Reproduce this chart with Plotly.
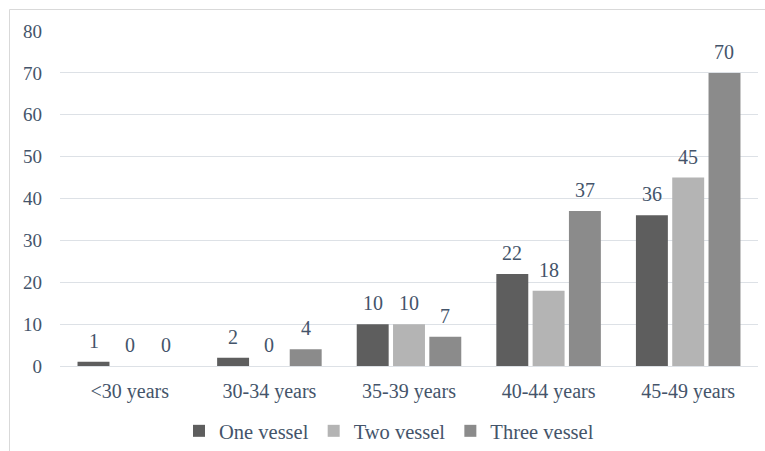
import plotly.graph_objects as go

categories = ["<30 years", "30-34 years", "35-39 years", "40-44 years", "45-49 years"]
series_names = ["One vessel", "Two vessel", "Three vessel"]
one_vessel = [1, 2, 10, 22, 36]
two_vessel = [0, 0, 10, 18, 45]
three_vessel = [0, 4, 7, 37, 70]
y_ticks = [0, 10, 20, 30, 40, 50, 60, 70, 80]

colors = ["#5e5e5e", "#b4b4b4", "#8b8b8b"]
text_color = "#44546a"
font_family = "Liberation Serif"

W, H = 765, 451
margin = dict(l=60, r=7, t=31, b=85, autoexpand=False)
plot_w = W - margin["l"] - margin["r"]
plot_h = H - margin["t"] - margin["b"]

fig = go.Figure()
all_series = [one_vessel, two_vessel, three_vessel]
for name, vals, col in zip(series_names, all_series, colors):
    fig.add_trace(go.Bar(
        x=categories, y=vals, name=name,
        marker=dict(color=col, line=dict(width=0)),
    ))

# value labels above each bar
cat_px = plot_w / len(categories)
bargap = 0.22
slot_px = cat_px * (1 - bargap) / 3
for i, vals in enumerate(all_series):
    shift = (i - 1) * slot_px
    for c, v in zip(categories, vals):
        fig.add_annotation(
            x=c, y=v, text=str(v), showarrow=False,
            xshift=shift, yshift=8, yanchor="bottom",
            font=dict(family=font_family, size=20, color=text_color),
        )

# light frame around the chart
fig.add_shape(
    type="rect", xref="paper", yref="paper",
    x0=(9.5 - margin["l"]) / plot_w, x1=1.2,
    y0=-0.6, y1=(H - margin["b"] - 9.5) / plot_h,
    line=dict(color="#d9d9d9", width=1), fillcolor="rgba(0,0,0,0)", layer="below",
)

fig.update_layout(
    width=W, height=H, margin=margin,
    paper_bgcolor="white", plot_bgcolor="white",
    barmode="group", bargap=bargap, bargroupgap=0.12,
    font=dict(family=font_family, size=19, color=text_color),
    showlegend=True,
    legend=dict(
        orientation="h", x=(389 - margin["l"]) / plot_w, xanchor="center",
        y=(H - margin["b"] - 431) / plot_h, yanchor="middle",
        font=dict(family=font_family, size=20.5, color=text_color), itemwidth=30,
        traceorder="normal",
    ),
    xaxis=dict(
        showgrid=False, showline=False, zeroline=False,
        tickfont=dict(family=font_family, size=20, color=text_color),
        ticklabelstandoff=11,
    ),
    yaxis=dict(
        range=[0, 80], tickvals=y_ticks, showgrid=True,
        gridcolor="#dde1e6", gridwidth=1, zeroline=True,
        zerolinecolor="#dde1e6", zerolinewidth=1, showline=False,
        tickfont=dict(family=font_family, size=19, color=text_color),
        ticklabelstandoff=17,
    ),
)

fig.write_html("out.html")
